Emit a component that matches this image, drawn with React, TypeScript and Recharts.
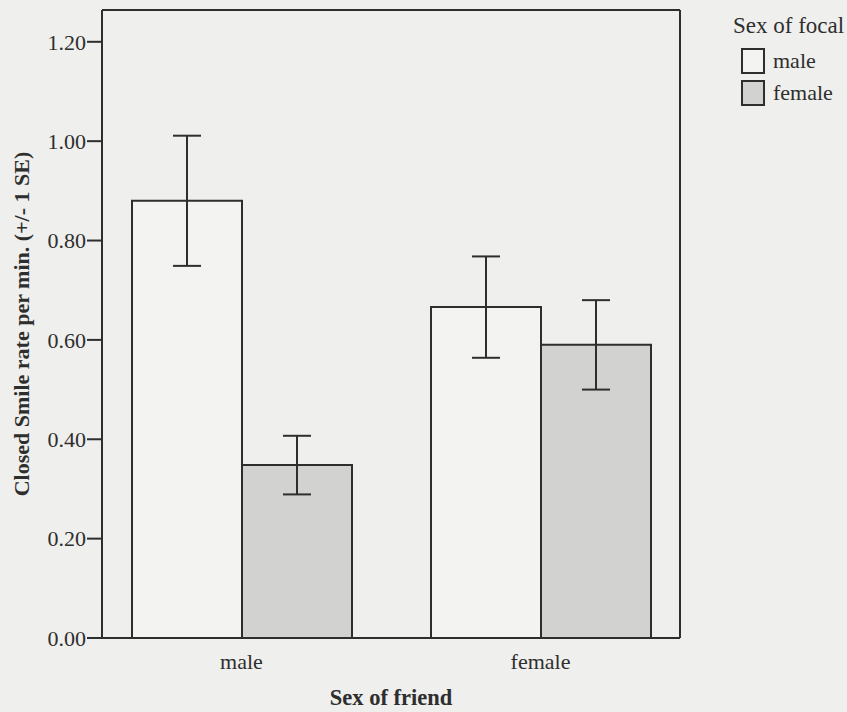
import React from 'react'
import { Bar, BarChart, ErrorBar, Legend, XAxis, YAxis } from 'recharts'

const FONT = '"Liberation Serif", "Times New Roman", serif'
const INK = '#2e2e2e'
const PAPER = '#efefed'

// Sex of friend (x categories)
const friendSex = ['male', 'female']
// Sex of focal (series), mean closed smile rate per min and +/- 1 SE
const focalSex = ['male', 'female']
const maleFocal = [0.88, 0.666]
const maleFocalSE = [0.131, 0.102]
const femaleFocal = [0.348, 0.59]
const femaleFocalSE = [0.059, 0.09]
const yTicks = [0, 0.2, 0.4, 0.6, 0.8, 1.0, 1.2]

const seriesFill: Record<string, string> = { male: '#f3f3f1', female: '#d2d2d0' }

const data = friendSex.map((friend, i) => ({
  friend,
  male: maleFocal[i],
  maleSE: maleFocalSE[i],
  female: femaleFocal[i],
  femaleSE: femaleFocalSE[i],
}))

function FocalLegend() {
  return (
    <div style={{ fontFamily: FONT, fontSize: 22, color: INK, lineHeight: '26px' }}>
      <div style={{ fontSize: 23, marginBottom: 6 }}>Sex of focal</div>
      {focalSex.map((name) => (
        <div key={name} style={{ display: 'flex', alignItems: 'center', height: 32, marginLeft: 8 }}>
          <svg width={24} height={26} style={{ marginRight: 8 }}>
            <rect x={1} y={1} width={22} height={24} fill={seriesFill[name]} stroke={INK} strokeWidth={2} />
          </svg>
          <span>{name}</span>
        </div>
      ))}
    </div>
  )
}

export default function App() {
  const tickStyle = { fontFamily: FONT, fontSize: 22, fill: INK }
  return (
    <div style={{ position: 'absolute', left: 0, top: 0, width: 847, height: 712, background: PAPER }}>
      <BarChart
        width={847}
        height={712}
        data={data}
        margin={{ top: 9, right: 166, bottom: 0, left: 0 }}
        barGap={0}
        barSize={110}
      >
        <XAxis
          dataKey="friend"
          padding={{ left: -10, right: -10 }}
          height={74}
          tickLine={false}
          tickSize={8}
          tickMargin={7}
          axisLine={{ stroke: INK, strokeWidth: 2 }}
          tick={tickStyle}
          label={{
            content: ({ viewBox }: any) => (
              <text
                x={viewBox.x + viewBox.width / 2}
                y={705}
                textAnchor="middle"
                fontFamily={FONT}
                fontSize={22.5}
                fontWeight="bold"
                fill={INK}
              >
                Sex of friend
              </text>
            ),
          }}
        />
        <XAxis xAxisId="top" dataKey="friend" orientation="top" height={1} tick={false} tickLine={false} axisLine={{ stroke: INK, strokeWidth: 2 }} />
        <YAxis
          domain={[0, 1.264]}
          ticks={yTicks}
          width={102}
          tickSize={15}
          tickMargin={1}
          tickFormatter={(v: number) => v.toFixed(2)}
          tick={tickStyle}
          tickLine={{ stroke: INK, strokeWidth: 2 }}
          axisLine={{ stroke: INK, strokeWidth: 2 }}
          label={{
            content: ({ viewBox }: any) => {
              const cy = viewBox.y + viewBox.height / 2
              return (
                <text
                  x={29}
                  y={cy}
                  transform={`rotate(-90 29 ${cy})`}
                  textAnchor="middle"
                  fontFamily={FONT}
                  fontSize={22}
                  fontWeight="bold"
                  fill={INK}
                >
                  Closed Smile rate per min. (+/- 1 SE)
                </text>
              )
            },
          }}
        />
        <YAxis yAxisId="frame" orientation="right" width={1} domain={[0, 1.264]} tick={false} tickLine={false} axisLine={{ stroke: INK, strokeWidth: 2 }} />
        <Legend
          layout="vertical"
          align="center"
          verticalAlign="middle"
          wrapperStyle={{ left: 733, top: 13, width: 114 }}
          content={<FocalLegend />}
        />
        <Bar dataKey="male" name="male" fill={seriesFill.male} stroke={INK} strokeWidth={2} isAnimationActive={false}>
          <ErrorBar dataKey="maleSE" width={14} stroke={INK} strokeWidth={2} direction="y" />
        </Bar>
        <Bar dataKey="female" name="female" fill={seriesFill.female} stroke={INK} strokeWidth={2} isAnimationActive={false}>
          <ErrorBar dataKey="femaleSE" width={14} stroke={INK} strokeWidth={2} direction="y" />
        </Bar>
      </BarChart>
    </div>
  )
}
